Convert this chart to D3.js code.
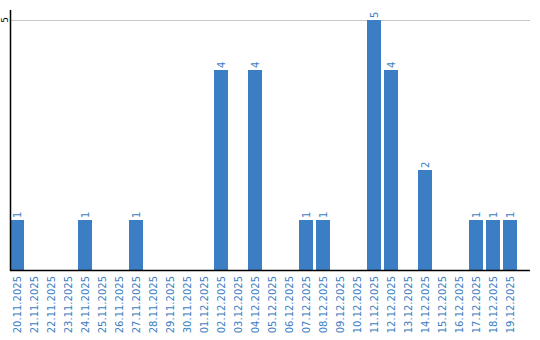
<!DOCTYPE html>
<html>
<head>
<meta charset="utf-8">
<script src="https://cdn.jsdelivr.net/npm/d3@7"></script>
<style>
  body { margin: 0; background: #fff; }
  svg { display: block; }
</style>
</head>
<body>
<div id="wrap"></div>
<script>
// 数据
const dates = ["20.11.2025","21.11.2025","22.11.2025","23.11.2025","24.11.2025","25.11.2025",
  "26.11.2025","27.11.2025","28.11.2025","29.11.2025","30.11.2025","01.12.2025","02.12.2025",
  "03.12.2025","04.12.2025","05.12.2025","06.12.2025","07.12.2025","08.12.2025","09.12.2025",
  "10.12.2025","11.12.2025","12.12.2025","13.12.2025","14.12.2025","15.12.2025","16.12.2025",
  "17.12.2025","18.12.2025","19.12.2025"];
const counts = [1,0,0,0,1,0,0,1,0,0,0,0,4,0,4,0,0,1,1,0,0,5,4,0,2,0,0,1,1,1];
const yTicks = [5];

chart();
function chart(){
  const WIDTH = 540, HEIGHT = 340;
  const LEFT = 10, RIGHT = 517, AXIS_END = 530;
  const TOP = 20, BOTTOM = 270;
  const BLUE = '#3b7ec3';

  let datas = dates.map((d, i) => ({key: d, value: counts[i]}));

  let svg = d3.select('#wrap').append('svg')
    .attr('width', WIDTH)
    .attr('height', HEIGHT)
    .style('font-family', 'DejaVu Sans, sans-serif');

  let xScale = d3.scaleBand()
    .domain(dates)
    .range([LEFT, RIGHT])
    .paddingInner(3 / 17)
    .paddingOuter(0);

  let yScale = d3.scaleLinear()
    .domain([0, 5])
    .range([BOTTOM, TOP]);

  // 网格线
  svg.append('g').selectAll('line')
    .data(yTicks)
    .enter().append('line')
    .attr('x1', LEFT + 1).attr('x2', AXIS_END)
    .attr('y1', d => yScale(d) + 0.5).attr('y2', d => yScale(d) + 0.5)
    .attr('stroke', '#c8c8c8');

  // y轴刻度
  svg.append('g').selectAll('text')
    .data(yTicks)
    .enter().append('text')
    .attr('transform', d => 'translate(8,' + yScale(d) + ') rotate(-90)')
    .attr('text-anchor', 'middle')
    .attr('font-size', 9)
    .attr('fill', '#000')
    .text(d => d);

  // 柱子
  let bars = datas.filter(d => d.value > 0);
  svg.append('g').selectAll('rect')
    .data(bars)
    .enter().append('rect')
    .attr('x', d => xScale(d.key))
    .attr('y', d => yScale(d.value))
    .attr('width', xScale.bandwidth())
    .attr('height', d => BOTTOM - yScale(d.value))
    .attr('fill', BLUE);

  // 数值标签
  svg.append('g').selectAll('text')
    .data(bars)
    .enter().append('text')
    .attr('transform', d => 'translate(' + (xScale(d.key) + xScale.bandwidth() / 2 + 4) + ',' + (yScale(d.value) - 2) + ') rotate(-90)')
    .attr('font-size', 10)
    .attr('fill', BLUE)
    .text(d => d.value);

  // 坐标轴线
  svg.append('line')
    .attr('x1', LEFT + 0.5).attr('x2', LEFT + 0.5)
    .attr('y1', 10).attr('y2', BOTTOM + 1)
    .attr('stroke', '#000').attr('stroke-width', 1.5);
  svg.append('line')
    .attr('x1', LEFT).attr('x2', AXIS_END)
    .attr('y1', BOTTOM + 0.5).attr('y2', BOTTOM + 0.5)
    .attr('stroke', '#000').attr('stroke-width', 1.5);

  // x轴标签
  svg.append('g').selectAll('text')
    .data(dates)
    .enter().append('text')
    .attr('transform', d => 'translate(' + (xScale(d) + xScale.bandwidth() / 2 + 4) + ',' + (BOTTOM + 6) + ') rotate(-90)')
    .attr('text-anchor', 'end')
    .attr('font-size', 10)
    .attr('fill', BLUE)
    .text(d => d);
}
</script>
</body>
</html>
